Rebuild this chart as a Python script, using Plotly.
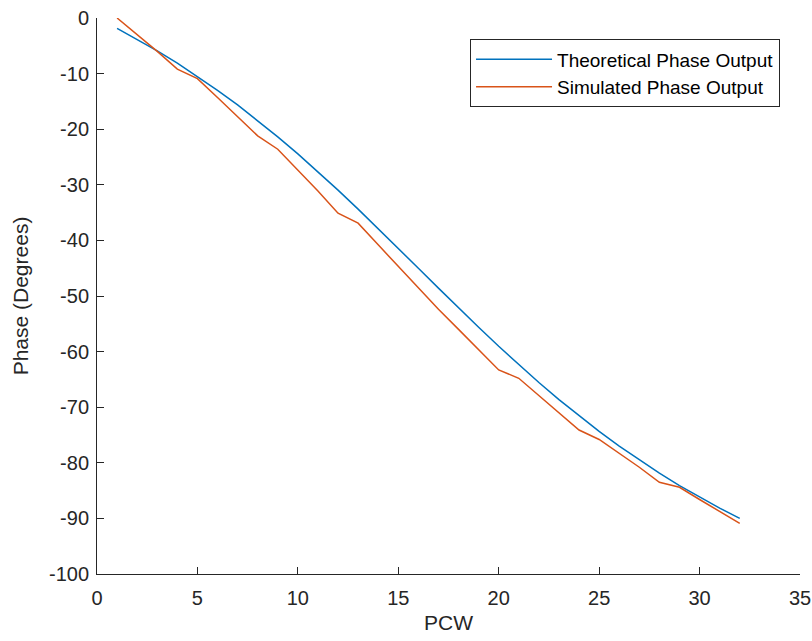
import plotly.graph_objects as go

pcw = list(range(1, 33))
theoretical = [-1.85, -3.81, -5.91, -8.13, -10.49, -13.00, -15.64, -18.43,
               -21.37, -24.44, -27.65, -30.96, -34.38, -37.87, -41.42, -45.00,
               -48.58, -52.13, -55.62, -59.04, -62.35, -65.56, -68.63, -71.57,
               -74.36, -77.00, -79.51, -81.87, -84.09, -86.19, -88.15, -90.00]
simulated = [0.0, -3.0, -6.0, -9.2, -10.9, -14.3, -17.8, -21.2,
             -23.6, -27.4, -31.1, -35.1, -36.9, -40.8, -44.7, -48.6,
             -52.4, -56.0, -59.7, -63.3, -64.8, -67.9, -71.0, -74.1,
             -75.8, -78.3, -80.8, -83.5, -84.4, -86.6, -88.7, -90.9]

x_ticks = [0, 5, 10, 15, 20, 25, 30, 35]
x_ticktext = ["0", "5", "10", "15", "20", "25", "30", "35"]
y_ticks = [-100, -90, -80, -70, -60, -50, -40, -30, -20, -10, 0]
y_ticktext = ["-100", "-90", "-80", "-70", "-60", "-50", "-40", "-30", "-20", "-10", "0"]

axis_color = "#262626"
font_family = "Liberation Sans, Arial, sans-serif"

fig = go.Figure()
fig.add_trace(go.Scatter(x=pcw, y=theoretical, mode="lines",
                         name="Theoretical Phase Output",
                         line=dict(color="#0072BD", width=1.5)))
fig.add_trace(go.Scatter(x=pcw, y=simulated, mode="lines",
                         name="Simulated Phase Output",
                         line=dict(color="#D95319", width=1.5)))

fig.update_layout(
    width=812, height=641,
    margin=dict(l=97, r=12, t=18, b=67, autoexpand=False),
    paper_bgcolor="white", plot_bgcolor="white",
    font=dict(family=font_family, size=20, color=axis_color),
    showlegend=True,
    legend=dict(x=0.9716, y=0.9617, xanchor="right", yanchor="top",
                bordercolor=axis_color, borderwidth=1, bgcolor="white",
                itemwidth=76,
                font=dict(size=19, color="black"), tracegroupgap=0),
    xaxis=dict(range=[0, 35], tickvals=x_ticks, ticktext=x_ticktext,
               showline=True, linecolor=axis_color, linewidth=1,
               ticks="inside", ticklen=7, tickcolor=axis_color,
               showgrid=False, zeroline=False, automargin=False,
               ticklabeloverflow="allow", ticklabelstandoff=6,
               title=dict(text="PCW", font=dict(size=21), standoff=7)),
    yaxis=dict(range=[-100, 0], tickvals=y_ticks, ticktext=y_ticktext,
               showline=True, linecolor=axis_color, linewidth=1,
               ticks="inside", ticklen=7, tickcolor=axis_color,
               showgrid=False, zeroline=False, automargin=False,
               ticklabeloverflow="allow", ticklabelstandoff=3,
               title=dict(text="Phase (Degrees)", font=dict(size=21), standoff=14)),
)

fig.write_html("out.html",
               config={"displayModeBar": False},
               post_script="document.body.style.margin='0';document.body.style.overflow='hidden';")
